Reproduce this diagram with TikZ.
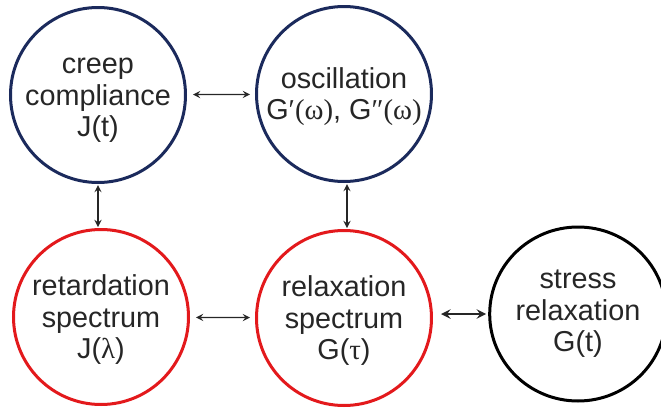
\documentclass[tikz,border=0pt]{standalone}
\usepackage{fontspec}
\setmainfont{Liberation Sans}
\newfontfamily\greekfont{Liberation Serif}
\usetikzlibrary{arrows,calc,shapes.geometric,positioning}
\definecolor{navy}{HTML}{1B2A5C}
\definecolor{redline}{HTML}{E3191C}
\definecolor{textgray}{HTML}{262626}
\tikzset{
    bubble/.style = {circle, draw, line width=1.5pt, minimum size=87.5pt, inner sep=0pt,
        align=center, text=textgray, font=\fontsize{14.4}{15.8}\selectfont},
    link/.style = {<->, >=stealth, line width=0.6pt, color=textgray}
}
\newcommand{\gr}[1]{{\greekfont #1}}
\newcommand{\up}{\rule{0pt}{13pt}}

\begin{document}
\begin{tikzpicture}[x=0.5pt,y=-0.5pt]
    \useasboundingbox (0,0) rectangle (661,408);

    % the five quantities
    \node[bubble, draw=navy] (creep) at (98,95) {\up creep\\compliance\\J(t)};
    \node[bubble, draw=navy] (osc) at (344,94) {\up oscillation\\G\gr{′(ω)}, G\gr{″(ω)}};
    \node[bubble, draw=redline] (retard) at (101,317) {\up retardation\\spectrum\\J(\gr{λ})};
    \node[bubble, draw=redline] (relax) at (344,318) {\up relaxation\\spectrum\\G(\gr{τ})};
    \node[bubble, ellipse, minimum width=81pt, minimum height=87pt, draw=black] (stress) at (578,314)
        {stress\\relaxation\\G(t)};

    % conversions between them
    \draw[link, shorten <=3pt, shorten >=2.5pt] (creep) -- (osc);
    \draw[link, shorten <=3pt, shorten >=2.5pt] (retard) -- (relax);
    \draw[link, shorten <=0.5pt, shorten >=0.5pt] (creep.south) -- (creep.south |- retard.north);
    \draw[link, shorten <=0.5pt, shorten >=0.5pt] ([xshift=1.5pt]osc.south) -- ([xshift=1.5pt]osc.south |- relax.north);
    \draw[link, line width=1.1pt, shorten <=4pt, shorten >=1pt] (relax.east |- stress.west) -- (stress.west);
\end{tikzpicture}
\end{document}
